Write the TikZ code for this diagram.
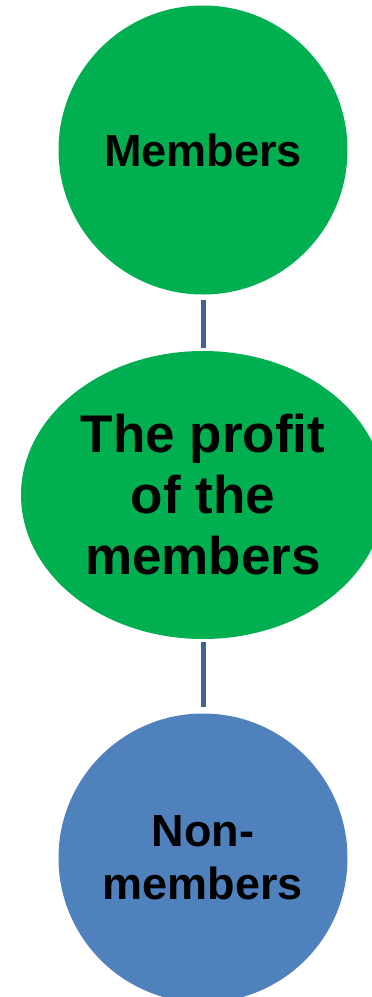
\documentclass[tikz,border=0pt]{standalone}
\usepackage{fontspec}
\setmainfont{Liberation Sans}
\usetikzlibrary{shapes.geometric}
\definecolor{mgreen}{HTML}{00B050}
\definecolor{mblue}{HTML}{4F81BD}
\definecolor{mline}{HTML}{3F6397}
\tikzset{
  bubble/.style={fill=#1, draw=none, inner sep=0pt, align=center, text=black},
  link/.style={draw=mline, line width=5pt}
}
\begin{document}
\begin{tikzpicture}[x=1pt,y=-1pt]
\useasboundingbox (0,0) rectangle (372,997);
\node[bubble=mgreen, circle, minimum size=289pt, font=\fontsize{45}{53}\selectfont\bfseries] (mem) at (203,150) {Members};
\node[bubble=mgreen, ellipse, minimum width=364pt, minimum height=288pt, font=\fontsize{53}{61}\selectfont\bfseries] (prof) at (203,495) {The profit\\of the\\members};
\node[bubble=mblue, circle, minimum size=289pt, font=\fontsize{45}{53}\selectfont\bfseries] (non) at (203,858) {Non-\\members};
\draw[link, shorten <=5pt, shorten >=3pt] (mem.south) -- (prof.north);
\draw[link, shorten <=3pt, shorten >=6pt] (prof.south) -- (non.north);
\end{tikzpicture}
\end{document}
